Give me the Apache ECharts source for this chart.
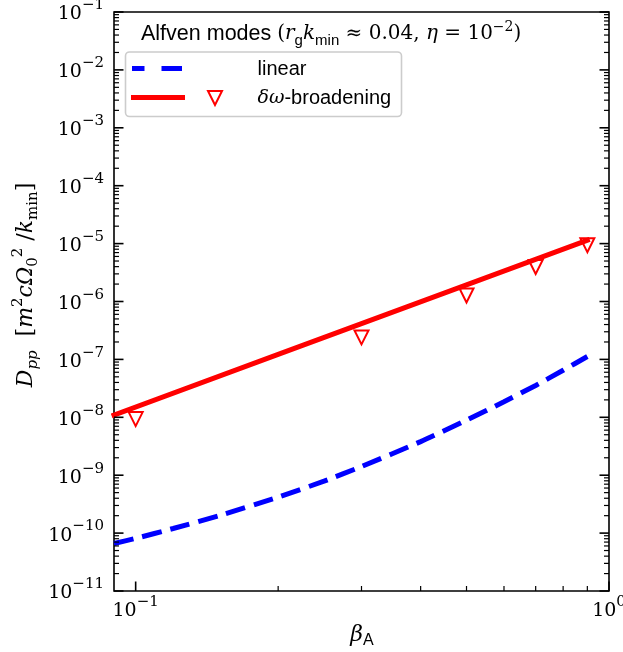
<!DOCTYPE html>
<html><head><meta charset="utf-8">
<script src="https://cdn.jsdelivr.net/npm/echarts@6/dist/echarts.min.js"></script>
<style>html,body{margin:0;padding:0;background:#fff}#c{width:623px;height:652px}</style>
</head><body><div id="c"></div><script>
// ---- data ----
const betaLinear = [0.09, 0.1, 0.12, 0.15, 0.2, 0.25, 0.3, 0.4, 0.5, 0.6, 0.7, 0.8, 0.9];
const dppLinear  = [6.6e-11, 8.1e-11, 1.2e-10, 2.0e-10, 4.17e-10, 7.9e-10, 1.41e-9, 3.8e-9, 8.9e-9, 1.86e-8, 3.55e-8, 6.5e-8, 1.12e-7];
const betaBroadLine = [0.09, 0.2, 0.5, 0.9];
const dppBroadLine  = [1.09e-8, 1.22e-7, 1.94e-6, 1.14e-5];
const betaBroadPts = [0.1, 0.3, 0.5, 0.7, 0.9];
const dppBroadPts  = [9.3e-9, 2.4e-7, 1.27e-6, 3.94e-6, 9.4e-6];
// ---- ticks ----
const xMajorTicks  = [0.1, 1];
const xMajorLabels = ['\u22121', '0'];
const xMinorTicks  = [0.2, 0.3, 0.4, 0.5, 0.6, 0.7, 0.8, 0.9];
const yMajorTicks  = [1e-11, 1e-10, 1e-9, 1e-8, 1e-7, 1e-6, 1e-5, 1e-4, 1e-3, 1e-2, 1e-1];
const yMajorLabels = ['\u221211','\u221210','\u22129','\u22128','\u22127','\u22126','\u22125','\u22124','\u22123','\u22122','\u22121'];
const yMinorMantissas = [2, 3, 4, 5, 6, 7, 8, 9];
const yMinorTicks = [];
yMajorTicks.slice(0, -1).forEach(d => yMinorMantissas.forEach(m => yMinorTicks.push(m * d)));

const X_MIN = 0.09, X_MAX = 1, Y_MIN = 1e-11, Y_MAX = 1e-1;
const SERIF = '"DejaVu Serif", serif';
const SANS = '"Liberation Sans", Arial, sans-serif';

const zip = (a, b) => a.map((v, i) => [v, b[i]]);

const tickRich = {
  b: { fontFamily: SERIF, fontSize: 19, lineHeight: 26, verticalAlign: 'bottom', color: '#000' },
  s: { fontFamily: SERIF, fontSize: 15, lineHeight: 17, verticalAlign: 'top', color: '#000' }
};

function xTicks(len, w) {
  return function (params, api) {
    const cs = params.coordSys;
    const p = api.coord([api.value(0), Y_MIN]);
    const yb = cs.y + cs.height;
    return { type: 'line', shape: { x1: p[0], y1: yb, x2: p[0], y2: yb - len }, style: { stroke: '#000', lineWidth: w } };
  };
}
function yTicks(len, w) {
  return function (params, api) {
    const cs = params.coordSys;
    const p = api.coord([X_MIN, api.value(1)]);
    const xr = cs.x + cs.width;
    return { type: 'group', children: [
      { type: 'line', shape: { x1: cs.x, y1: p[1], x2: cs.x + len, y2: p[1] }, style: { stroke: '#000', lineWidth: w } },
      { type: 'line', shape: { x1: xr, y1: p[1], x2: xr - len, y2: p[1] }, style: { stroke: '#000', lineWidth: w } }
    ] };
  };
}

const chart = echarts.init(document.getElementById('c'), null, { renderer: 'canvas' });
chart.setOption({
  animation: false,
  backgroundColor: '#fff',
  grid: { left: 114, right: 14, top: 12, bottom: 61, show: true, borderColor: '#000', borderWidth: 1.6, backgroundColor: 'transparent' },
  xAxis: { type: 'log', logBase: 10, min: X_MIN, max: X_MAX,
    axisLine: { show: false }, axisTick: { show: false }, axisLabel: { show: false }, splitLine: { show: false } },
  yAxis: { type: 'log', logBase: 10, min: Y_MIN, max: Y_MAX,
    axisLine: { show: false }, axisTick: { show: false }, axisLabel: { show: false }, splitLine: { show: false } },
  series: [
    { type: 'line', name: 'linear', data: zip(betaLinear, dppLinear), showSymbol: false, symbol: 'none', smooth: 0.2,
      lineStyle: { color: '#0000ff', width: 5, type: [20, 9], cap: 'butt' }, z: 3 },
    { type: 'line', name: 'broadening', data: zip(betaBroadLine, dppBroadLine), showSymbol: false, symbol: 'none',
      lineStyle: { color: '#ff0000', width: 5, cap: 'square' }, z: 3 },
    { type: 'scatter', data: zip(betaBroadPts, dppBroadPts), symbol: 'triangle', symbolRotate: 180, symbolSize: 14,
      itemStyle: { color: 'rgba(0,0,0,0)', borderColor: '#ff0000', borderWidth: 2, opacity: 1 }, z: 4 },
    { type: 'custom', data: xMajorTicks.map(v => [v, Y_MIN]), renderItem: xTicks(9.5, 1.6), z: 5, silent: true },
    { type: 'custom', data: xMinorTicks.map(v => [v, Y_MIN]), renderItem: xTicks(5, 1.2), z: 5, silent: true },
    { type: 'custom', data: yMajorTicks.map(v => [X_MIN, v]), renderItem: yTicks(9.5, 1.6), z: 5, silent: true },
    { type: 'custom', data: yMinorTicks.map(v => [X_MIN, v]), renderItem: yTicks(5, 1.2), z: 5, silent: true },
    { type: 'custom', data: xMajorTicks.map((v, i) => [v, Y_MIN, i]), silent: true, z: 5,
      renderItem: function (params, api) {
        const cs = params.coordSys;
        const p = api.coord([api.value(0), Y_MIN]);
        return { type: 'text', x: p[0], y: cs.y + cs.height + 4,
          style: { text: '{b|10}{s|' + xMajorLabels[api.value(2)] + '}', rich: tickRich, align: 'center', verticalAlign: 'top' } };
      } },
    { type: 'custom', data: yMajorTicks.map((v, i) => [X_MIN, v, i]), silent: true, z: 5,
      renderItem: function (params, api) {
        const cs = params.coordSys;
        const p = api.coord([X_MIN, api.value(1)]);
        return { type: 'text', x: cs.x - 10, y: p[1] - 1,
          style: { text: '{b|10}{s|' + yMajorLabels[api.value(2)] + '}', rich: tickRich, align: 'right', verticalAlign: 'middle' } };
      } }
  ],
  graphic: [
    // title
    { type: 'text', x: 141, y: 34, z: 10, style: {
      text: '{s|Alfven modes }{r|(}{i|r}{ss|g}{i|k}{ss|min}{r| \u2248 0.04, }{i|\u03b7}{r| = 10}{sup|\u22122}{r|)}',
      align: 'left', verticalAlign: 'middle',
      rich: {
        s: { fontFamily: SANS, fontSize: 21.5, lineHeight: 28, verticalAlign: 'middle', color: '#000' },
        r: { fontFamily: SERIF, fontSize: 20, lineHeight: 28, verticalAlign: 'middle', color: '#000' },
        i: { fontFamily: SERIF, fontStyle: 'italic', fontSize: 20, lineHeight: 28, verticalAlign: 'middle', color: '#000' },
        ss: { fontFamily: SANS, fontSize: 15, lineHeight: 18, verticalAlign: 'bottom', color: '#000' },
        sup: { fontFamily: SERIF, fontSize: 14, lineHeight: 16, verticalAlign: 'top', color: '#000' }
      } } },
    // legend frame
    { type: 'rect', z: 10, shape: { x: 125.5, y: 52, width: 276, height: 64.5, r: 4 },
      style: { fill: 'rgba(255,255,255,0.8)', stroke: '#cccccc', lineWidth: 1.6 } },
    { type: 'line', z: 11, shape: { x1: 132, y1: 68.5, x2: 144.5, y2: 68.5 }, style: { stroke: '#0000ff', lineWidth: 5 } },
    { type: 'line', z: 11, shape: { x1: 161.5, y1: 68.5, x2: 182, y2: 68.5 }, style: { stroke: '#0000ff', lineWidth: 5 } },
    { type: 'line', z: 11, shape: { x1: 131, y1: 97.5, x2: 185, y2: 97.5 }, style: { stroke: '#ff0000', lineWidth: 5 } },
    { type: 'polygon', z: 11, shape: { points: [[208, 91], [222, 91], [215, 105]] },
      style: { fill: 'none', stroke: '#ff0000', lineWidth: 2 } },
    { type: 'text', z: 11, x: 257.5, y: 69, style: { text: 'linear', font: '20px ' + SANS, fill: '#000', align: 'left', verticalAlign: 'middle' } },
    { type: 'text', z: 11, x: 257.5, y: 98, style: {
      text: '{i|\u03b4\u03c9}{s|-broadening}', align: 'left', verticalAlign: 'middle',
      rich: {
        i: { fontFamily: SERIF, fontStyle: 'italic', fontSize: 19, color: '#000' },
        s: { fontFamily: SANS, fontSize: 20, color: '#000' }
      } } },
    // x axis name
    { type: 'text', z: 10, x: 362, y: 635, style: {
      text: '{i|\u03b2}{s|A}', align: 'center', verticalAlign: 'middle',
      rich: {
        i: { fontFamily: SERIF, fontStyle: 'italic', fontSize: 22, lineHeight: 28, verticalAlign: 'middle', color: '#000' },
        s: { fontFamily: SANS, fontSize: 16, lineHeight: 19, verticalAlign: 'bottom', color: '#000' }
      } } },
    // y axis name
    { type: 'text', z: 10, x: 26, y: 285, rotation: Math.PI / 2, style: {
      text: '{i|D}{sub|pp}{r|  [}{i|m}{sup|2}{i|c\u03a9}{subr|0}{sup|2}{r| /}{i|k}{subr|min}{r|]}',
      align: 'center', verticalAlign: 'middle',
      rich: {
        i: { fontFamily: SERIF, fontStyle: 'italic', fontSize: 22, lineHeight: 30, verticalAlign: 'middle', color: '#000' },
        r: { fontFamily: SERIF, fontSize: 22, lineHeight: 30, verticalAlign: 'middle', color: '#000' },
        sub: { fontFamily: SERIF, fontStyle: 'italic', fontSize: 15, lineHeight: 19, verticalAlign: 'bottom', color: '#000' },
        subr: { fontFamily: SERIF, fontSize: 15, lineHeight: 19, verticalAlign: 'bottom', color: '#000' },
        sup: { fontFamily: SERIF, fontSize: 15, lineHeight: 19, verticalAlign: 'top', color: '#000' }
      } } }
  ]
});
</script></body></html>
